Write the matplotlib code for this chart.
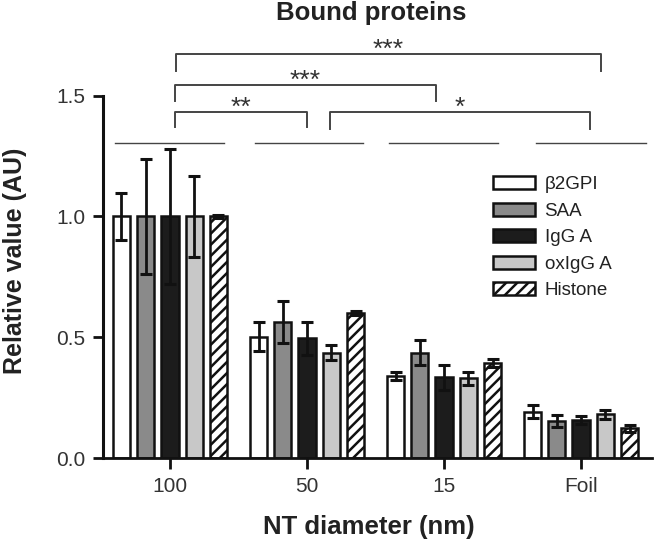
import numpy as np
import matplotlib
matplotlib.use('Agg')
import matplotlib.pyplot as plt

plt.rcParams['font.family'] = ['Liberation Sans', 'DejaVu Sans']
plt.rcParams['hatch.linewidth'] = 1.8
plt.rcParams['hatch.color'] = '#111111'

groups = ['100', '50', '15', 'Foil']
proteins = ['\u03b22GPI', 'SAA', 'IgG A', 'oxIgG A', 'Histone']

b2gpi = [1.0, 0.502, 0.339, 0.192]
saa = [1.0, 0.564, 0.436, 0.153]
igga = [1.0, 0.495, 0.334, 0.157]
oxigga = [1.0, 0.436, 0.330, 0.181]
histone = [1.0, 0.599, 0.394, 0.123]

b2gpi_err = [0.096, 0.060, 0.018, 0.027]
saa_err = [0.238, 0.086, 0.052, 0.025]
igga_err = [0.278, 0.067, 0.051, 0.018]
oxigga_err = [0.168, 0.032, 0.027, 0.018]
histone_err = [0.005, 0.008, 0.016, 0.014]

# significance brackets: (x left, x right, top, leg bottom, label)
brackets = [
    (0.039, 1.002, 1.431, 1.369, '**'),
    (0.039, 1.939, 1.544, 1.479, '***'),
    (0.044, 3.144, 1.671, 1.603, '***'),
    (1.168, 3.066, 1.431, 1.361, '*'),
]
# horizontal lines above each group
group_lines = [(-0.401, 0.394), (0.620, 1.409), (1.599, 2.394), (2.672, 3.474)]
group_line_y = 1.303

values = [b2gpi, saa, igga, oxigga, histone]
errors = [b2gpi_err, saa_err, igga_err, oxigga_err, histone_err]
colors = ['white', '#8a8a8a', '#1c1c1c', '#c8c8c8', 'white']
hatches = [None, None, None, None, '///']

fig = plt.figure(figsize=(6.54, 5.47), dpi=100)
ax = fig.add_axes([103 / 654, 89 / 547, 549 / 654, 362.4 / 547])

x = np.arange(len(groups))
slot = 0.177
width = 0.125
for i in range(len(proteins)):
    xi = x + (i - 2) * slot
    ax.bar(xi, values[i], width, color=colors[i], edgecolor='#111111',
           linewidth=1.8, hatch=hatches[i], label=proteins[i], zorder=2)
    ax.errorbar(xi, values[i], yerr=errors[i], fmt='none', ecolor='#111111',
                elinewidth=2, capsize=4, capthick=2.2, zorder=3)

ax.set_xlim(-0.489, 3.518)
ax.set_ylim(0, 1.5)
ax.set_xticks(x)
ax.set_xticklabels(groups)
ax.set_yticks([0, 0.5, 1.0, 1.5])
ax.set_yticklabels(['0.0', '0.5', '1.0', '1.5'])
ax.tick_params(axis='y', length=7.5, width=2, pad=5, labelsize=15,
               labelcolor='#333333', color='#111111')
ax.tick_params(axis='x', length=8, width=2, pad=6, labelsize=15,
               labelcolor='#333333', color='#111111')
for s in ['top', 'right']:
    ax.spines[s].set_visible(False)
ax.spines['left'].set_linewidth(2.2)
ax.spines['bottom'].set_linewidth(2)
ax.spines['left'].set_color('#111111')
ax.spines['bottom'].set_color('#111111')

for x0, x1 in group_lines:
    ax.plot([x0, x1], [group_line_y, group_line_y], color='#444444', lw=1,
            clip_on=False)

for x0, x1, top, bot, lab in brackets:
    ax.plot([x0, x0, x1, x1], [bot, top, top, bot], color='#444444', lw=1.4,
            clip_on=False)
    ax.text((x0 + x1) / 2, top - 0.01, lab, ha='center', va='baseline',
            fontsize=19, color='#333333')

leg = ax.legend(loc='upper left', bbox_to_anchor=(493 / 654, 1 - 176 / 547),
                bbox_transform=fig.transFigure, frameon=False, fontsize=13.5,
                borderpad=0, borderaxespad=0, handlelength=2.25,
                handleheight=0.7, handletextpad=0.5, labelspacing=0.5)
for t in leg.get_texts():
    t.set_color('#222222')

fig.text(371 / 654, 1 - 13 / 547, 'Bound proteins', ha='center', va='center',
         fontsize=18.5, fontweight='bold', color='#222222')
fig.text(368.5 / 654, 1 - 527 / 547, 'NT diameter (nm)', ha='center',
         va='center', fontsize=18.5, fontweight='bold', color='#222222')
fig.text(15 / 654, 1 - 260.5 / 547, 'Relative value (AU)', ha='center',
         va='center', rotation=90, fontsize=18, fontweight='bold',
         color='#222222')

fig.savefig('out.png', dpi=100)
